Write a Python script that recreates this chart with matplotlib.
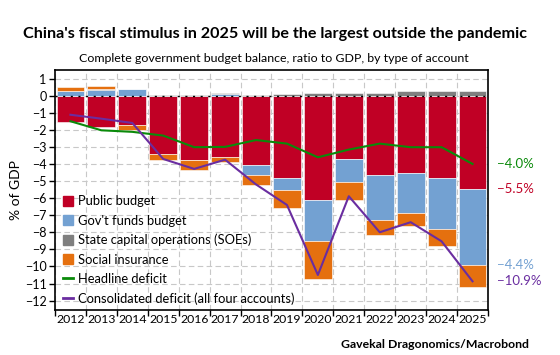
import numpy as np
import matplotlib
matplotlib.use("Agg")
import matplotlib.pyplot as plt
from matplotlib.lines import Line2D
from matplotlib.patches import Patch

plt.rcParams['font.family'] = ['Lato', 'DejaVu Sans']

years = [str(y) for y in range(2012, 2026)]

# % of GDP, by account
public_budget = [-1.56, -1.83, -1.74, -3.41, -3.75, -3.61, -4.06, -4.84, -6.09, -3.69, -4.63, -4.51, -4.84, -5.48]
govt_funds = [0.26, 0.35, 0.39, 0.0, -0.03, 0.12, -0.57, -0.68, -2.40, -1.36, -2.67, -2.36, -2.95, -4.45]
soe_capital = [0.02, 0.02, 0.02, 0.05, 0.05, 0.03, 0.05, 0.10, 0.18, 0.18, 0.15, 0.27, 0.26, 0.25]
social_insurance = [0.21, 0.18, -0.26, -0.37, -0.55, -0.29, -0.62, -1.04, -2.24, -1.04, -0.88, -0.78, -1.01, -1.27]

headline_deficit = [-1.5, -2.03, -2.12, -2.34, -3.02, -3.0, -2.6, -2.81, -3.61, -3.16, -2.81, -3.02, -3.02, -4.0]
consolidated_deficit = [-1.12, -1.35, -1.6, -3.71, -4.29, -3.75, -5.2, -6.4, -10.5, -5.89, -8.0, -7.41, -8.53, -10.87]

c_red = '#C00025'
c_blue = '#73A1D2'
c_grey = '#7F7F7F'
c_orange = '#E5700F'
c_green = '#0A8A0A'
c_purple = '#6A2DA0'

fig = plt.figure(figsize=(5.6, 3.55), dpi=100)
ax = fig.add_axes([0.0982, 0.1268, 0.7732, 0.676])

x = np.arange(len(years))
w = 0.9

pos_base = np.zeros(len(years))
neg_base = np.zeros(len(years))
for vals, col in [(public_budget, c_red), (govt_funds, c_blue),
                  (soe_capital, c_grey), (social_insurance, c_orange)]:
    v = np.array(vals)
    bottoms = np.where(v >= 0, pos_base, neg_base)
    ax.bar(x, v, width=w, bottom=bottoms, color=col, edgecolor='white',
           linewidth=0.4, zorder=2)
    pos_base = pos_base + np.where(v >= 0, v, 0)
    neg_base = neg_base + np.where(v < 0, v, 0)

ax.plot(x, headline_deficit, color=c_green, lw=1.5, zorder=3)
ax.plot(x, consolidated_deficit, color=c_purple, lw=1.5, zorder=3)

ax.axhline(0, color='black', lw=1.0, ls=(0, (1.5, 4)), zorder=4)

ax.set_xlim(-0.5, len(years) - 0.5)
ax.set_ylim(-12.55, 1.5)
ax.set_yticks(range(-12, 2))
ax.set_yticklabels([str(v).replace('-', '\u2212') for v in range(-12, 2)])
ax.set_xticks(np.arange(-0.5, len(years), 1.0))
ax.set_xticklabels([])
ax.set_xticks(x, minor=True)
ax.set_xticklabels(years, minor=True)
ax.tick_params(axis='x', which='minor', length=0, labelsize=8.8, pad=3)
ax.tick_params(axis='x', which='major', length=4, width=1)
ax.tick_params(axis='y', length=4, width=1, labelsize=9, pad=2)
ax.grid(True, which='major', color='#C8C8C8', ls=(0, (5, 3)), lw=0.8, zorder=0)
ax.set_axisbelow(True)
for s in ax.spines.values():
    s.set_linewidth(1.2)
ax.set_ylabel('% of GDP', fontsize=10, labelpad=2)

handles = [Patch(color=c_red), Patch(color=c_blue), Patch(color=c_grey),
           Patch(color=c_orange), Line2D([], [], color=c_green, lw=2),
           Line2D([], [], color=c_purple, lw=2)]
labels = ['Public budget', "Gov't funds budget", 'State capital operations (SOEs)',
          'Social insurance', 'Headline deficit', 'Consolidated deficit (all four accounts)']
ax.legend(handles, labels, loc='lower left', bbox_to_anchor=(0.0, -0.012),
          frameon=False, fontsize=9.3, handlelength=0.8, handleheight=0.8,
          handletextpad=0.4, labelspacing=0.57, borderaxespad=0.2)

# end-of-series labels
ax.text(1.02, headline_deficit[-1], '\u2212' + '4.0%', color=c_green, fontsize=9.5,
        transform=ax.get_yaxis_transform(), va='center')
ax.text(1.02, public_budget[-1], '\u2212' + '5.5%', color=c_red, fontsize=9.5,
        transform=ax.get_yaxis_transform(), va='center')
ax.text(1.02, -9.9, '\u2212' + '4.4%', color=c_blue, fontsize=9.5,
        transform=ax.get_yaxis_transform(), va='center')
ax.text(1.02, consolidated_deficit[-1], '\u2212' + '10.9%', color=c_purple, fontsize=9.5,
        transform=ax.get_yaxis_transform(), va='center')

fig.text(0.491, 0.904, "China's fiscal stimulus in 2025 will be the largest outside the pandemic",
         ha='center', va='center', fontsize=11.6, fontweight='bold')
fig.text(0.489, 0.836, 'Complete government budget balance, ratio to GDP, by type of account',
         ha='center', va='center', fontsize=8.9)
fig.text(0.945, 0.03, 'Gavekal Dragonomics/Macrobond', ha='right', va='center',
         fontsize=8.8, fontweight='bold')

fig.savefig('out.png', dpi=100)
